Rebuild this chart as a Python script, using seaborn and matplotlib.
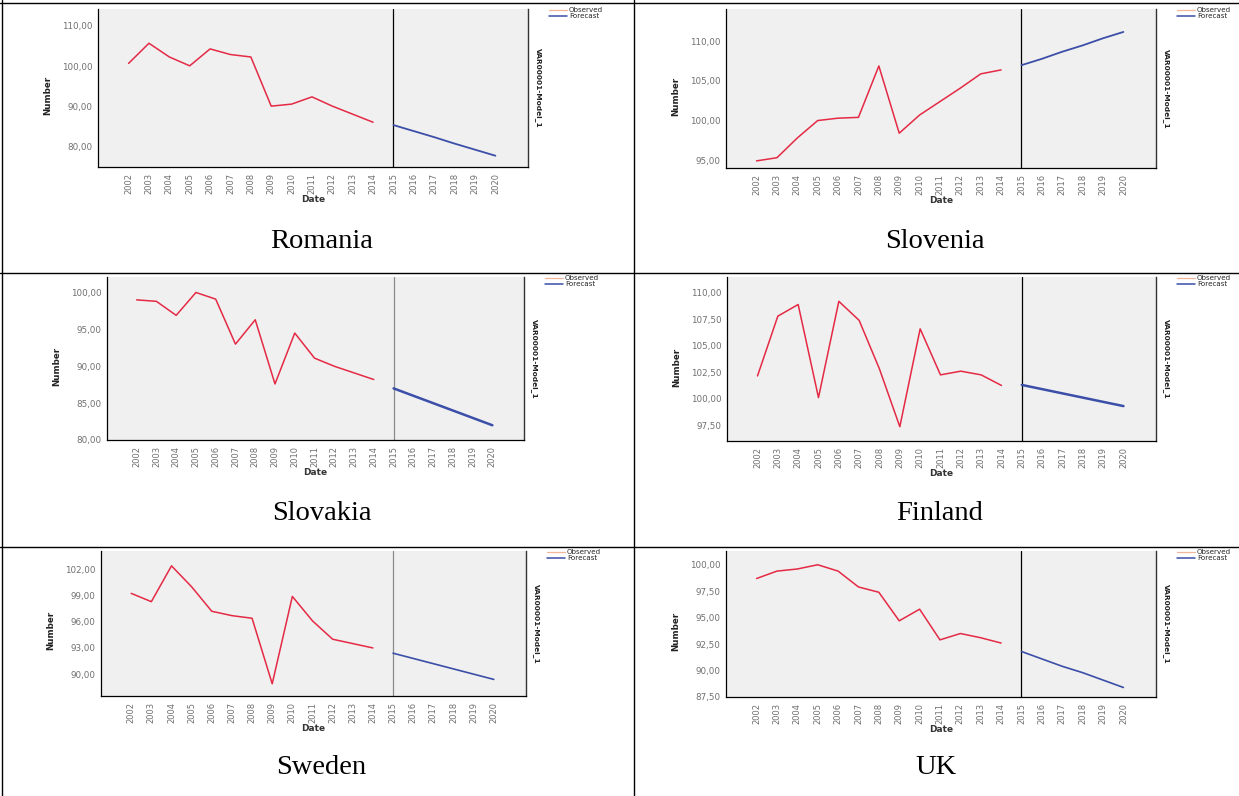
import matplotlib
matplotlib.use("Agg")
import matplotlib.pyplot as plt
from matplotlib.lines import Line2D
import pandas as pd
import seaborn as sns

sns.set_style("white")
plt.rcParams["font.family"] = ["DejaVu Sans"]

# ---- data -------------------------------------------------------------
obs_years = list(range(2002, 2015))
fc_years = list(range(2015, 2021))
tick_years = list(range(2002, 2021))

countries = ["Romania", "Slovenia", "Slovakia", "Finland", "Sweden", "UK"]

romania_obs = [100.7, 105.7, 102.3, 100.1, 104.3, 102.9, 102.3, 90.1, 90.6, 92.4, 90.1, 88.1, 86.1]
romania_fc = [85.4, 83.9, 82.4, 80.8, 79.3, 77.8]

slovenia_obs = [94.9, 95.3, 97.8, 100.0, 100.3, 100.4, 106.9, 98.4, 100.7, 102.4, 104.1, 105.9, 106.4]
slovenia_fc = [107.0, 107.8, 108.7, 109.5, 110.4, 111.2]

slovakia_obs = [99.0, 98.8, 96.9, 100.0, 99.1, 93.0, 96.3, 87.6, 94.5, 91.1, 90.0, 89.1, 88.2]
slovakia_fc = [87.0, 86.0, 85.0, 84.0, 83.0, 82.0]

finland_obs = [102.15, 107.8, 108.9, 100.1, 109.2, 107.4, 102.8, 97.35, 106.6, 102.25, 102.6, 102.25, 101.25]
finland_fc = [101.3, 100.9, 100.5, 100.1, 99.7, 99.3]

sweden_obs = [99.25, 98.3, 102.4, 100.0, 97.2, 96.7, 96.4, 88.9, 98.9, 96.1, 94.0, 93.5, 93.0]
sweden_fc = [92.4, 91.8, 91.2, 90.6, 90.0, 89.4]

uk_obs = [98.7, 99.4, 99.6, 100.0, 99.4, 97.9, 97.4, 94.7, 95.8, 92.9, 93.5, 93.1, 92.6]
uk_fc = [91.8, 91.1, 90.4, 89.8, 89.1, 88.4]

observed = [romania_obs, slovenia_obs, slovakia_obs, finland_obs, sweden_obs, uk_obs]
forecast = [romania_fc, slovenia_fc, slovakia_fc, finland_fc, sweden_fc, uk_fc]

y_ticks = [
    [80, 90, 100, 110],
    [95, 100, 105, 110],
    [80, 85, 90, 95, 100],
    [97.5, 100, 102.5, 105, 107.5, 110],
    [90, 93, 96, 99, 102],
    [87.5, 90, 92.5, 95, 97.5, 100],
]
series_name = "VAR00001-Model_1"

# ---- layout (pixels of a 1239 x 796 canvas) --------------------------
W, H = 1239, 796
axes_px = [
    (98, 9, 528, 167),
    (726, 9, 1156, 168),
    (107, 277, 524, 440),
    (727, 277, 1156, 441),
    (101, 551, 526, 696),
    (726, 551, 1156, 697),
]
y_limits = [(75.0, 114.2), (94.0, 114.1), (80.0, 102.1), (96.0, 111.5), (87.5, 104.1), (87.5, 101.3)]
x_limits = (2000.5, 2021.6)
vline_colors = ["black", "black", "#8a8a8a", "black", "#8a8a8a", "black"]
fc_widths = [1.3, 1.3, 1.8, 1.8, 1.2, 1.2]
label_centers = [(322, 242), (935, 242), (322, 514), (940, 514), (321, 767), (936, 767)]

OBS_COLOR = "#e42a45"
FC_COLOR = "#3b4ea8"
LEGEND_OBS = "#f2b79a"
TICK_COLOR = "#707070"

fig = plt.figure(figsize=(W / 100, H / 100), dpi=100)
fig.patch.set_facecolor("white")


def fx(x):
    return x / W


def fy(y):
    return 1 - y / H


for i, name in enumerate(countries):
    x0, y0, x1, y1 = axes_px[i]
    ax = fig.add_axes([fx(x0), fy(y1), (x1 - x0) / W, (y1 - y0) / H])
    ax.set_facecolor("#f0f0f0")

    df_obs = pd.DataFrame({"Date": obs_years, "Number": observed[i]})
    df_fc = pd.DataFrame({"Date": fc_years, "Number": forecast[i]})
    sns.lineplot(data=df_obs, x="Date", y="Number", ax=ax, color=OBS_COLOR, lw=1.1)
    sns.lineplot(data=df_fc, x="Date", y="Number", ax=ax, color=FC_COLOR, lw=fc_widths[i])
    ax.axvline(fc_years[0], color=vline_colors[i], lw=0.9, zorder=1)

    ax.set_xlim(*x_limits)
    ax.set_ylim(*y_limits[i])
    ax.set_xticks(tick_years)
    ax.set_xticklabels([str(y) for y in tick_years], rotation=90, fontsize=6, color=TICK_COLOR)
    ax.set_yticks(y_ticks[i])
    ax.set_yticklabels([f"{v:.2f}".replace(".", ",") for v in y_ticks[i]], fontsize=6.3, color=TICK_COLOR)
    ax.tick_params(axis="both", direction="out", length=2.5, width=0.6, color="#555555", pad=1.5)

    for side in ("left", "bottom"):
        ax.spines[side].set_color("black")
        ax.spines[side].set_linewidth(0.9)
    ax.spines["right"].set_color("#333333")
    ax.spines["right"].set_linewidth(1.0)
    ax.spines["top"].set_visible(False)

    ax.set_xlabel("Date", fontsize=6.5, fontweight="bold", color="#333333", labelpad=1)
    ax.set_ylabel("Number", fontsize=6.3, fontweight="bold", color="#222222")
    ax.yaxis.set_label_coords(-46 / (x1 - x0), 0.45)

    handles = [Line2D([], [], color=LEGEND_OBS, lw=0.9), Line2D([], [], color=FC_COLOR, lw=1.1)]
    fig.legend(handles, ["Observed", "Forecast"], loc="upper left",
               bbox_to_anchor=(fx(x1 + 21), fy(y0 - 2)), frameon=False,
               fontsize=5.1, handlelength=2.5, handletextpad=0.3, labelspacing=0.0,
               borderpad=0, borderaxespad=0)

    fig.text(fx(x1 + 10), fy((y0 + y1) / 2), series_name, rotation=-90,
             fontsize=5.3, fontweight="bold", ha="center", va="center", color="#222222")

    cx, cy = label_centers[i]
    fig.text(fx(cx), fy(cy), name, fontsize=20.5, family="Liberation Serif",
             ha="center", va="center", color="black")

# table rules
rules = [
    ((2.5, 2.5), (0, H)),
    ((0, W), (H - 2.5, H - 2.5)),
    ((634, 634), (0, H)),
    ((0, W), (H - 273, H - 273)),
    ((0, W), (H - 547, H - 547)),
]
for xs, ys in rules:
    fig.add_artist(Line2D([fx(xs[0]), fx(xs[1])], [ys[0] / H, ys[1] / H],
                          color="black", lw=1.0, transform=fig.transFigure))

fig.savefig("out.png", dpi=100, facecolor="white")
